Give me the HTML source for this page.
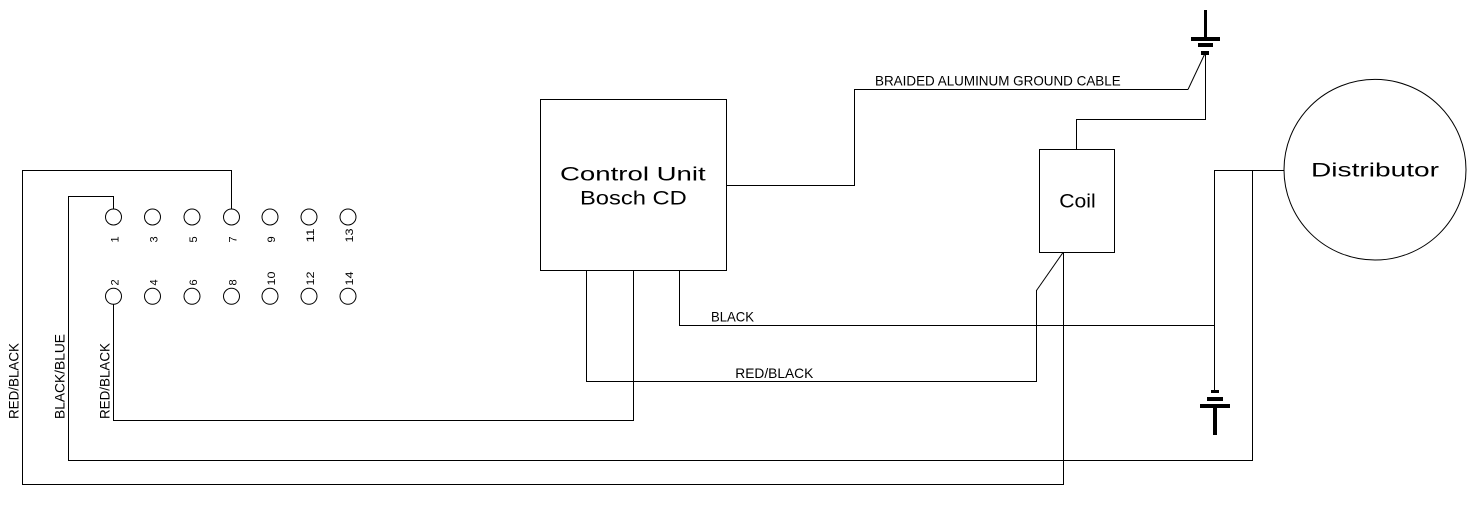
<!DOCTYPE html>
<html>
<head>
<meta charset="utf-8">
<style>
  html, body { margin: 0; padding: 0; background: #fff; }
  body { width: 1475px; height: 507px; overflow: hidden; }
  svg { display: block; }
  text { font-family: "Liberation Sans", "DejaVu Sans", sans-serif; fill: #000; }
</style>
</head>
<body>
<svg width="1475" height="507" viewBox="0 0 1475 507" xmlns="http://www.w3.org/2000/svg">
  <rect x="0" y="0" width="1475" height="507" fill="#fff"/>

  <g stroke="#000" stroke-width="1" fill="none" shape-rendering="crispEdges">
    <!-- Control Unit box -->
    <rect x="540.5" y="99.5" width="186" height="171"/>
    <!-- CU to braided ground cable -->
    <polyline points="726.5,185.5 854.5,185.5 854.5,89.5 1188,89.5"/>
    <!-- ground top thin line -->
    <polyline points="1205.5,54 1205.5,119.5 1076.5,119.5 1076.5,149.5"/>
    <!-- Coil box -->
    <rect x="1039.5" y="149.5" width="75" height="103"/>
    <!-- coil bottom long wire -->
    <polyline points="1063.5,252.5 1063.5,484.5 22.5,484.5 22.5,170.5 231.5,170.5 231.5,209"/>
    <!-- coil to RED/BLACK -->
    <polyline points="1036.5,290 1036.5,381.5 586.5,381.5 586.5,270.5"/>
    <!-- BLACK wire -->
    <polyline points="679.5,270.5 679.5,325.5 1214.5,325.5"/>
    <!-- distributor connection -->
    <polyline points="1284,170.5 1214.5,170.5 1214.5,391"/>
    <polyline points="1252.5,170.5 1252.5,460.5 68.5,460.5 68.5,196.5 113.5,196.5 113.5,209"/>
    <!-- CU to pin 2 -->
    <polyline points="633.5,270.5 633.5,420.5 113.5,420.5 113.5,304"/>
  </g>

  <!-- diagonals (anti-aliased) -->
  <g stroke="#000" stroke-width="1" fill="none">
    <line x1="1188" y1="89.5" x2="1204.5" y2="54.5"/>
    <line x1="1063" y1="252.5" x2="1036.5" y2="290.5"/>
  </g>

  <!-- Distributor circle -->
  <ellipse cx="1375" cy="169.7" rx="91" ry="90.3" stroke="#000" stroke-width="1" fill="none"/>

  <!-- top ground symbol -->
  <g fill="#000" shape-rendering="crispEdges">
    <rect x="1204" y="10" width="3" height="27"/>
    <rect x="1191" y="37" width="29" height="4"/>
    <rect x="1198" y="43" width="15" height="4"/>
    <rect x="1201" y="51" width="8" height="4"/>
  </g>

  <!-- bottom ground symbol -->
  <g fill="#000" shape-rendering="crispEdges">
    <rect x="1211" y="390" width="8" height="3"/>
    <rect x="1207" y="397" width="16" height="4"/>
    <rect x="1200" y="404" width="30" height="4"/>
    <rect x="1213" y="407" width="4" height="28"/>
  </g>

  <!-- connector pins -->
  <g stroke="#000" stroke-width="1" fill="none">
    <circle cx="113.5" cy="217" r="8"/>
    <circle cx="152.5" cy="217" r="8"/>
    <circle cx="192" cy="217" r="8"/>
    <circle cx="231.5" cy="217" r="8"/>
    <circle cx="270" cy="217" r="8"/>
    <circle cx="309" cy="217" r="8"/>
    <circle cx="348" cy="217" r="8"/>

    <circle cx="113.5" cy="296.3" r="8"/>
    <circle cx="152.5" cy="296.3" r="8"/>
    <circle cx="192" cy="296.3" r="8"/>
    <circle cx="231.5" cy="296.3" r="8"/>
    <circle cx="270" cy="296.3" r="8"/>
    <circle cx="309" cy="296.3" r="8"/>
    <circle cx="348" cy="296.3" r="8"/>
  </g>

  <!-- pin labels (rotated) -->
  <g font-size="11">
    <text transform="translate(118.7,242.5) rotate(-90)">1</text>
    <text transform="translate(157.7,242.5) rotate(-90)">3</text>
    <text transform="translate(197.2,242.5) rotate(-90)">5</text>
    <text transform="translate(236.7,242.5) rotate(-90)">7</text>
    <text transform="translate(275.2,242.5) rotate(-90)">9</text>
    <text transform="translate(314.2,242.5) rotate(-90)" textLength="14" lengthAdjust="spacingAndGlyphs">11</text>
    <text transform="translate(353.2,242.5) rotate(-90)" textLength="14" lengthAdjust="spacingAndGlyphs">13</text>

    <text transform="translate(118.7,285.5) rotate(-90)">2</text>
    <text transform="translate(157.7,285.5) rotate(-90)">4</text>
    <text transform="translate(197.2,285.5) rotate(-90)">6</text>
    <text transform="translate(236.7,285.5) rotate(-90)">8</text>
    <text transform="translate(275.2,285.5) rotate(-90)" textLength="14" lengthAdjust="spacingAndGlyphs">10</text>
    <text transform="translate(314.2,285.5) rotate(-90)" textLength="14" lengthAdjust="spacingAndGlyphs">12</text>
    <text transform="translate(353.2,285.5) rotate(-90)" textLength="14" lengthAdjust="spacingAndGlyphs">14</text>
  </g>

  <!-- wire labels (rotated, left) -->
  <g font-size="14">
    <text transform="translate(18.3,419) rotate(-90)" textLength="76" lengthAdjust="spacingAndGlyphs">RED/BLACK</text>
    <text transform="translate(64.3,419) rotate(-90)" textLength="85" lengthAdjust="spacingAndGlyphs">BLACK/BLUE</text>
    <text transform="translate(109.3,419) rotate(-90)" textLength="76" lengthAdjust="spacingAndGlyphs">RED/BLACK</text>
  </g>

  <!-- horizontal wire labels -->
  <g font-size="14">
    <text x="875" y="85.7" textLength="245.7" lengthAdjust="spacingAndGlyphs">BRAIDED ALUMINUM GROUND CABLE</text>
    <text x="711" y="321.7" textLength="43" lengthAdjust="spacingAndGlyphs">BLACK</text>
    <text x="735.3" y="378" textLength="78" lengthAdjust="spacingAndGlyphs">RED/BLACK</text>
  </g>

  <!-- component labels -->
  <g font-size="19.5">
    <text x="560" y="180.7" textLength="145.7" lengthAdjust="spacingAndGlyphs">Control Unit</text>
    <text x="580" y="204.7" textLength="106.7" lengthAdjust="spacingAndGlyphs">Bosch CD</text>
    <text x="1059.3" y="207.3" textLength="36.4" lengthAdjust="spacingAndGlyphs">Coil</text>
    <text x="1311" y="176.7" textLength="128" lengthAdjust="spacingAndGlyphs">Distributor</text>
  </g>
</svg>
</body>
</html>
